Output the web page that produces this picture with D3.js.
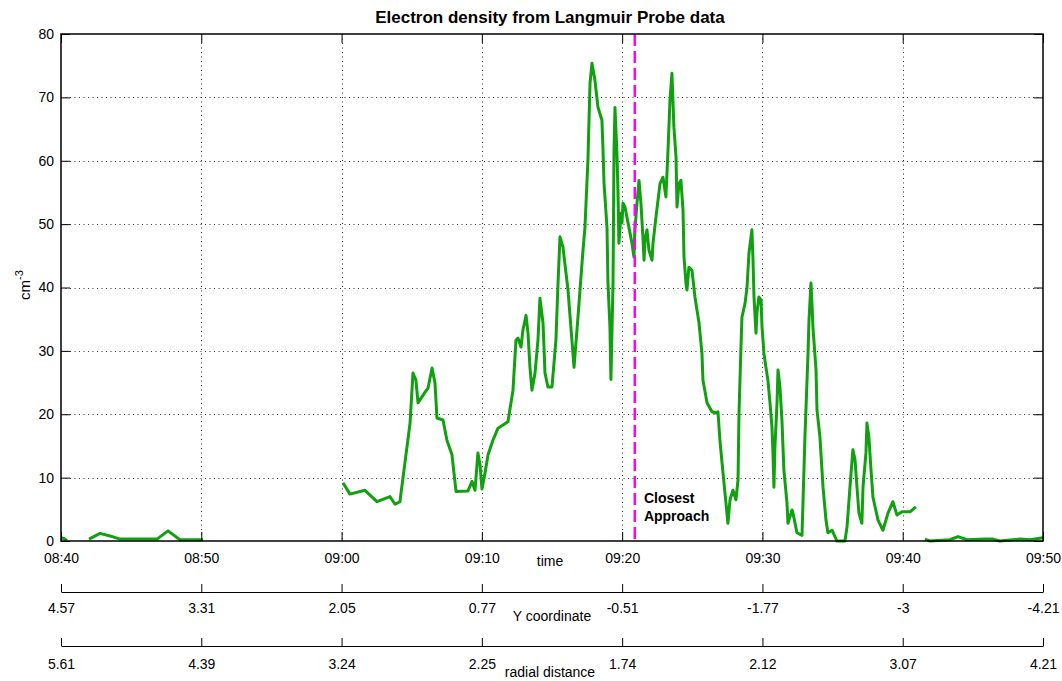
<!DOCTYPE html>
<html>
<head>
<meta charset="utf-8">
<script src="https://cdn.jsdelivr.net/npm/d3@7"></script>
<style>
  body { margin: 0; background: #fff; }
  svg text { font-family: "Liberation Sans", Arial, sans-serif; fill: #000; }
</style>
</head>
<body>
<div id="chart"></div>
<script>
// minutes after 08:40, null = data gap
var tMin = [
  0, 0.21, 0.43, null,
  2.0, 2.78, 3.49, 4.21, 6.84, 7.63, 8.48, 10.12, null,
  20.10, 20.60, 21.67, 22.52, 23.45, 23.81, 24.16, 24.88, 25.09, 25.30, 25.45, 25.95, 26.16, 26.45, 26.66, 26.80,
  27.23, 27.51, 27.87, 28.16, 29.01, 29.30, 29.51, 29.72, 29.87, 30.01, 30.22, 30.44, 30.79, 31.15, 31.86, 32.22,
  32.43, 32.58, 32.79, 32.93, 33.15, 33.29, 33.43, 33.57, 33.79, 34.00, 34.14, 34.36, 34.50, 34.71, 35.00, 35.28,
  35.43, 35.57, 35.78, 36.14, 36.42, 36.57, 36.85, 37.21, 37.35, 37.56, 37.71, 37.85, 38.06, 38.28, 38.56, 38.63,
  38.71, 38.92, 38.99, 39.13, 39.20, 39.35, 39.42, 39.49, 39.63, 39.70, 39.77, 39.92, 39.99, 40.06, 40.20, 40.42,
  40.70, 40.84, 40.91, 41.06, 41.20, 41.34, 41.48, 41.56, 41.63, 41.77, 41.91, 42.13, 42.20, 42.41, 42.70, 42.91,
  43.12, 43.27, 43.41, 43.55, 43.62, 43.69, 43.84, 43.91, 44.05, 44.19, 44.34, 44.41, 44.55, 44.62, 44.76, 44.98,
  45.19, 45.48, 45.69, 45.76, 46.05, 46.40, 46.69, 46.83, 46.97, 47.19, 47.40, 47.54, 47.69, 47.90, 48.11, 48.26,
  48.33, 48.47, 48.54, 48.76, 48.90, 49.04, 49.25, 49.33, 49.40, 49.54, 49.61, 49.75, 49.90, 49.97, 50.11, 50.25,
  50.39, 50.54, 50.68, 50.75, 50.82, 50.89, 51.04, 51.11, 51.25, 51.39, 51.53, 51.75, 51.82, 52.11, 52.18, 52.46,
  52.82, 52.89, 53.03, 53.25, 53.32, 53.46, 53.53, 53.60, 53.82, 53.89, 54.10, 54.32, 54.53, 54.67, 54.96, 55.31,
  55.88, 56.03, 56.24, 56.45, 56.60, 56.74, 56.88, 57.09, 57.17, 57.38, 57.45, 57.59, 57.74, 57.88, 58.24, 58.59,
  58.95, 59.30, 59.59, 59.95, 60.52, 60.94, null,
  61.58, 61.94, 63.37, 63.94, 64.58, 65.86, 66.43, 66.93, 68.36, 69.07, 70.0
];
var density = [
  0.5, 0.4, 0, null,
  0.3, 1.2, 0.8, 0.3, 0.3, 1.6, 0.2, 0.2, null,
  9.2, 7.4, 8.0, 6.2, 7.0, 5.8, 6.2, 18.6, 26.5, 25.4, 21.8, 23.5, 24.1, 27.3, 24.9, 19.4,
  19.1, 15.9, 13.6, 7.8, 7.9, 9.4, 8.0, 13.9, 12.0, 8.2, 10.7, 13.6, 15.9, 17.8, 18.8, 23.8,
  31.7, 32.0, 30.6, 33.3, 35.6, 32.8, 27.4, 23.8, 26.5, 31.7, 38.3, 34.4, 26.5, 24.3, 24.3, 31.7,
  40.7, 48.0, 46.4, 39.6, 31.7, 27.4, 35.3, 45.9, 49.5, 60.0, 72.2, 75.4, 72.7, 68.4, 66.4, 62.1,
  56.4, 49.5, 40.7, 33.8, 25.5, 40.7, 61.7, 68.4, 61.2, 55.4, 47.0, 51.7, 50.2, 53.3, 52.7, 50.2,
  47.0, 44.8, 49.1, 53.3, 56.9, 53.3, 48.0, 44.3, 47.5, 49.1, 45.9, 44.3, 47.0, 51.1, 56.4, 57.4,
  54.3, 61.7, 69.6, 73.8, 69.6, 65.3, 60.6, 52.7, 56.4, 56.9, 52.2, 44.8, 40.7, 39.6, 43.2, 42.7,
  38.5, 34.4, 29.6, 25.4, 21.8, 20.4, 20.2, 20.4, 15.9, 10.7, 6.0, 2.8, 6.5, 8.0, 6.5, 9.6,
  20.2, 30.6, 35.3, 37.5, 40.0, 45.4, 49.1, 44.3, 38.5, 32.8, 36.0, 38.5, 38.0, 33.8, 29.6, 27.4,
  25.4, 21.8, 18.0, 13.9, 8.5, 14.8, 21.8, 27.0, 24.3, 19.1, 11.2, 6.0, 2.8, 4.9, 4.4, 1.3,
  0.9, 6.0, 16.4, 29.6, 34.9, 40.7, 37.5, 33.8, 27.0, 20.7, 16.4, 8.5, 3.3, 1.3, 1.7, 0,
  0, 2.2, 8.5, 14.4, 12.8, 8.5, 4.4, 2.8, 8.5, 13.9, 18.6, 16.4, 11.2, 6.9, 3.3, 1.7,
  4.4, 6.2, 4.1, 4.6, 4.6, 5.4, null,
  0.3, 0, 0.2, 0.7, 0.2, 0.3, 0.3, 0, 0.3, 0.2, 0.5
];

var tickMin = [0, 10, 20, 30, 40, 50, 60, 70];
var timeLabels = ["08:40", "08:50", "09:00", "09:10", "09:20", "09:30", "09:40", "09:50"];
var yCoordLabels = ["4.57", "3.31", "2.05", "0.77", "-0.51", "-1.77", "-3", "-4.21"];
var radialLabels = ["5.61", "4.39", "3.24", "2.25", "1.74", "2.12", "3.07", "4.21"];
var yTicks = [0, 10, 20, 30, 40, 50, 60, 70, 80];
var closestApproach = 40.9; // minutes after 08:40

const w = 1062, h = 681;
const pLeft = 61, pRight = 1043, pTop = 34, pBottom = 541;

const x = d3.scaleLinear().domain([0, 70]).range([pLeft, pRight]);
const y = d3.scaleLinear().domain([0, 80]).range([pBottom, pTop]);

const svg = d3.select("#chart").append("svg")
  .attr("width", w).attr("height", h);
svg.append("rect").attr("width", w).attr("height", h).attr("fill", "#fff");

// dotted grid
const grid = svg.append("g").attr("stroke", "#333").attr("stroke-width", 1)
  .attr("stroke-dasharray", "1,3.5");
grid.selectAll(".gx").data(tickMin.slice(1, -1)).enter().append("line")
  .attr("x1", d => Math.round(x(d)) + 0.5).attr("x2", d => Math.round(x(d)) + 0.5)
  .attr("y1", pTop).attr("y2", pBottom);
grid.selectAll(".gy").data(yTicks.slice(1, -1)).enter().append("line")
  .attr("y1", d => Math.round(y(d)) + 0.5).attr("y2", d => Math.round(y(d)) + 0.5)
  .attr("x1", pLeft).attr("x2", pRight);

// data line
const pts = tMin.map((t, i) => [t, density[i]]);
const line = d3.line()
  .defined(d => d[0] !== null && d[1] !== null)
  .x(d => x(d[0])).y(d => y(d[1]));
svg.append("path").datum(pts)
  .attr("fill", "none").attr("stroke", "#10a010").attr("stroke-width", 3)
  .attr("stroke-linejoin", "round")
  .attr("d", line);

// closest approach marker
svg.append("line")
  .attr("x1", x(closestApproach)).attr("x2", x(closestApproach))
  .attr("y1", y(80)).attr("y2", y(0))
  .attr("stroke", "#ff00ff").attr("stroke-width", 2.5)
  .attr("stroke-dasharray", "12,5");
svg.append("text").attr("x", x(41.55)).attr("y", y(6))
  .attr("font-size", 14).attr("font-weight", "bold").text("Closest");
svg.append("text").attr("x", x(41.55)).attr("y", y(3.2))
  .attr("font-size", 14).attr("font-weight", "bold").text("Approach");

// axes with inward ticks
function styleAxis(g) {
  g.select(".domain").remove();
  g.selectAll(".tick line").attr("stroke", "#000");
  g.selectAll(".tick text").attr("font-size", 14).attr("font-family", '"Liberation Sans", Arial, sans-serif');
}
svg.append("g").attr("transform", `translate(${pLeft},0)`)
  .call(d3.axisLeft(y).tickValues(yTicks).tickSize(-9).tickPadding(7))
  .call(styleAxis);
svg.append("g").attr("transform", `translate(${pRight},0)`)
  .call(d3.axisRight(y).tickValues(yTicks).tickSize(-9).tickFormat(""))
  .call(styleAxis);
svg.append("g").attr("transform", `translate(0,${pBottom})`)
  .call(d3.axisBottom(x).tickValues(tickMin).tickSize(-9).tickPadding(12)
    .tickFormat((d, i) => timeLabels[i]))
  .call(styleAxis);
svg.append("g").attr("transform", `translate(0,${pTop})`)
  .call(d3.axisTop(x).tickValues(tickMin).tickSize(-9).tickFormat(""))
  .call(styleAxis);

// box
svg.append("rect").attr("x", pLeft).attr("y", pTop)
  .attr("width", pRight - pLeft).attr("height", pBottom - pTop)
  .attr("fill", "none").attr("stroke", "#000").attr("stroke-width", 1.5);

// secondary axes
function secondAxis(yPos, labels, pad) {
  const g = svg.append("g").attr("transform", `translate(0,${yPos})`)
    .call(d3.axisBottom(x).tickValues(tickMin).tickSize(-8).tickSizeOuter(0).tickPadding(pad)
      .tickFormat((d, i) => labels[i]));
  g.select(".domain").attr("stroke", "#000");
  g.selectAll(".tick text").attr("font-size", 14).attr("font-family", '"Liberation Sans", Arial, sans-serif');
}
secondAxis(592, yCoordLabels, 11);
secondAxis(646, radialLabels, 13);

// labels
svg.append("text").attr("x", 550).attr("y", 23).attr("text-anchor", "middle")
  .attr("font-size", 17).attr("font-weight", "bold")
  .text("Electron density from Langmuir Probe data");
svg.append("text").attr("x", 550).attr("y", 566).attr("text-anchor", "middle")
  .attr("font-size", 14).text("time");
svg.append("text").attr("x", 552).attr("y", 621).attr("text-anchor", "middle")
  .attr("font-size", 14).text("Y coordinate");
svg.append("text").attr("x", 550).attr("y", 677).attr("text-anchor", "middle")
  .attr("font-size", 14).text("radial distance");

const yl = svg.append("text").attr("transform", "translate(30,285) rotate(-90)")
  .attr("text-anchor", "middle").attr("font-size", 15);
yl.append("tspan").text("cm");
yl.append("tspan").attr("dy", -7).attr("font-size", 11).text("-3");
</script>
</body>
</html>
